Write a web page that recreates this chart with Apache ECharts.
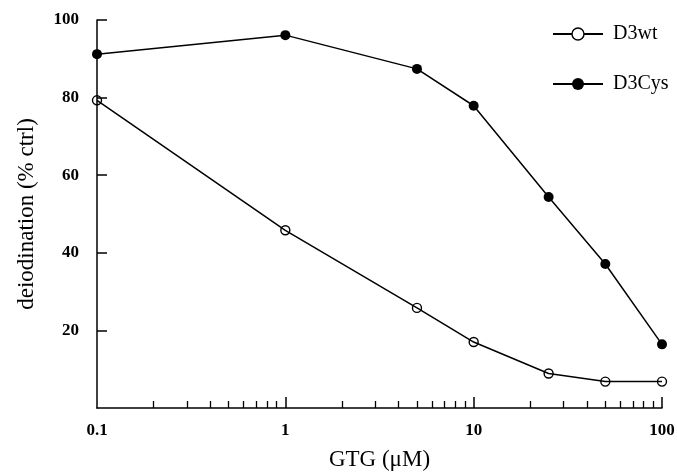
<!DOCTYPE html>
<html><head><meta charset="utf-8">
<script src="https://cdn.jsdelivr.net/npm/echarts@6/dist/echarts.min.js"></script>
<style>html,body{margin:0;padding:0;background:#fff}#c{width:677px;height:472px}</style>
</head><body><div id="c"></div>
<script>
const concentrations = [0.1, 1, 5, 10, 25, 50, 100];
const d3wt = [79.3, 45.8, 25.8, 17.0, 8.9, 6.8, 6.8];
const d3cys = [91.2, 96.1, 87.4, 77.9, 54.4, 37.1, 16.4];
const yTicks = [20, 40, 60, 80, 100];
const xMajorTicks = [1, 10, 100];
const xMinorTicks = [0.2,0.3,0.4,0.5,0.6,0.7,0.8,0.9,2,3,4,5,6,7,8,9,20,30,40,50,60,70,80,90];
const xLabels = [0.1, 1, 10, 100];

const serif = '"Liberation Serif", "DejaVu Serif", serif';
const chart = echarts.init(document.getElementById('c'));
const pair = arr => concentrations.map((x, i) => [x, arr[i]]);
chart.setOption({
  animation: false,
  grid: {left: 97, right: 15, top: 20, bottom: 64, outerBoundsMode: 'none', containLabel: false},
  legend: {
    orient: 'vertical', left: 547, top: 19, itemGap: 30,
    itemWidth: 50, itemHeight: 15,
    textStyle: {fontFamily: serif, fontSize: 20, color: '#000', padding: [0,0,0,5]},
    data: [{name: 'D3wt', itemStyle: {color: '#fff', borderColor: '#000', borderWidth: 1.4}}, 'D3Cys']
  },
  xAxis: [{
    type: 'log', logBase: 10, min: 0.1, max: 100,
    name: 'GTG (μM)', nameLocation: 'middle', nameGap: 40,
    nameTextStyle: {fontFamily: serif, fontSize: 23, color: '#000'},
    axisLine: {lineStyle: {color: '#000', width: 1.5}},
    axisTick: {inside: true, length: 11, customValues: xMajorTicks, lineStyle: {color: '#000', width: 1.5}},
    axisLabel: {customValues: xLabels, fontFamily: serif, fontWeight: 'bold', fontSize: 17, color: '#000', margin: 14, formatter: v => String(v)},
    splitLine: {show: false}
  }, {
    type: 'log', logBase: 10, min: 0.1, max: 100, position: 'bottom',
    axisLine: {show: false},
    axisTick: {inside: true, length: 7, customValues: xMinorTicks, lineStyle: {color: '#000', width: 1.3}},
    axisLabel: {show: false},
    splitLine: {show: false}
  }],
  yAxis: {
    type: 'value', min: 0, max: 100, interval: 20,
    name: 'deiodination (% ctrl)', nameLocation: 'middle', nameGap: 59,
    nameTextStyle: {fontFamily: serif, fontSize: 23, color: '#000'},
    axisLine: {show: true, lineStyle: {color: '#000', width: 1.5}},
    axisTick: {show: true, inside: true, length: 10, customValues: yTicks, lineStyle: {color: '#000', width: 1.5}},
    axisLabel: {customValues: yTicks, fontFamily: serif, fontWeight: 'bold', fontSize: 17, color: '#000', margin: 18},
    splitLine: {show: false}
  },
  series: [{
    name: 'D3wt', type: 'line', data: pair(d3wt),
    symbol: 'circle', symbolSize: 9,
    lineStyle: {color: '#000', width: 1.5},
    itemStyle: {color: 'rgba(255,255,255,0)', borderColor: '#000', borderWidth: 1.4}
  }, {
    name: 'D3Cys', type: 'line', data: pair(d3cys),
    symbol: 'circle', symbolSize: 10,
    lineStyle: {color: '#000', width: 1.5},
    itemStyle: {color: '#000'}
  }]
});
</script></body></html>
